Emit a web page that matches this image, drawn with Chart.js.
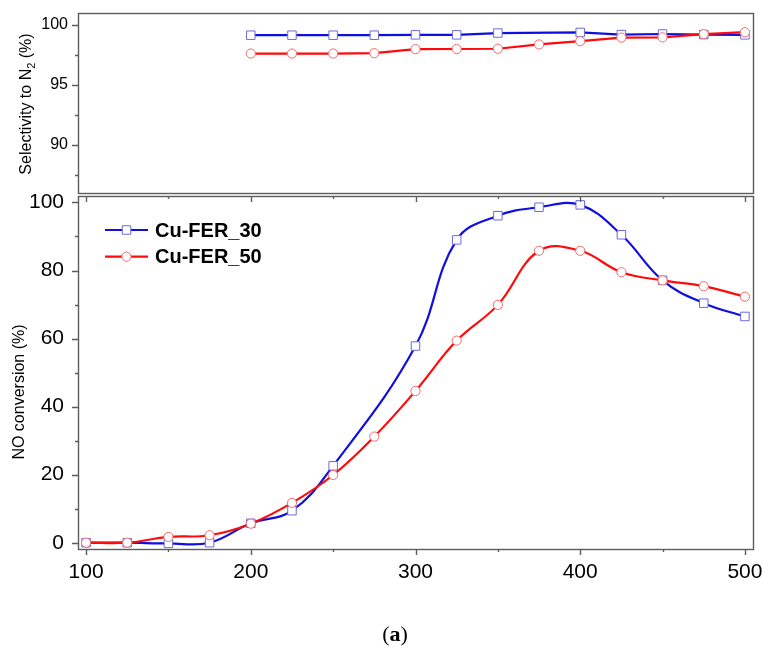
<!DOCTYPE html>
<html>
<head>
<meta charset="utf-8">
<script src="https://cdn.jsdelivr.net/npm/chart.js@4.4.1/dist/chart.umd.min.js"></script>
<style>
  html, body { margin: 0; padding: 0; background: #fff; }
  #wrap { position: relative; width: 764px; height: 648px; overflow: hidden; }
  canvas { position: absolute; left: 0; }
  #selChart { top: 0; }
  #convChart { top: 180px; }
  #caption {
    position: absolute; left: 345px; width: 100px; top: 621px;
    text-align: center; line-height: 26px;
    font-family: "Liberation Serif", "Times New Roman", serif; font-size: 22px; color: #000;
  }
</style>
</head>
<body>
<div id="wrap">
  <canvas id="selChart" width="764" height="200"></canvas>
  <canvas id="convChart" width="764" height="468"></canvas>
  <div id="caption">(<b>a</b>)</div>
</div>
<script>
// temperatures (°C)
const temps = [100, 125, 150, 175, 200, 225, 250, 275, 300, 325, 350, 375, 400, 425, 450, 475, 500];
const selTemps = [200, 225, 250, 275, 300, 325, 350, 375, 400, 425, 450, 475, 500];

// NO conversion (%)
const conv30 = [0, 0, -0.2, 0, 5.7, 9.4, 22.6, null, 57.8, 89.0, 96.1, 98.6, 99.3, 90.5, 77.1, 70.4, 66.5];
const conv50 = [0, 0, 1.7, 2.2, 5.6, 11.7, 19.9, 31.2, 44.6, 59.4, 69.9, 85.8, 85.8, 79.5, 77.1, 75.4, 72.3];

// selectivity to N2 (%)
const sel30 = [99.15, 99.15, 99.15, 99.15, 99.18, 99.18, 99.33, null, 99.38, 99.2, 99.25, 99.2, 99.18];
const sel50 = [97.62, 97.62, 97.62, 97.65, 97.99, 98.0, 98.02, 98.38, 98.65, 98.95, 98.97, 99.24, 99.4];

const seriesNames = ['Cu-FER_30', 'Cu-FER_50'];

// ticks
const xTicks = [100, 200, 300, 400, 500];
const xMinor = [150, 250, 350, 450];
const convTicks = [0, 20, 40, 60, 80, 100];
const convMinor = [10, 30, 50, 70, 90];
const selTicks = [90, 95, 100];
const selMinor = [87.5, 92.5, 97.5];

const BLUE = '#0f0fe0', BLUE_MK = '#6b6bde';
const RED = '#ff0a0a', RED_MK = '#f26a6a';
const AXIS = '#5c5c5c';
const X_MIN = 95.1, X_MAX = 504.9;

Chart.defaults.font.family = 'Arial, "Liberation Sans", sans-serif';
Chart.defaults.color = '#000';

const pts = (xs, ys) => xs.map((x, i) => ({x: x, y: ys[i]}));

// fixed axis boxes so both panels line up
const fixWidth = w => s => { s.width = w; s.paddingTop = 0; s.paddingBottom = 0; };
const fixHeight = h => s => { s.height = h; s.paddingLeft = 0; s.paddingRight = 0; };

function drawTicks(chart, axisId, values, len, edge) {
    const ctx = chart.ctx, a = chart.chartArea;
    const s = chart.scales[axisId];
    ctx.beginPath();
    values.forEach(v => {
        const p = Math.round(s.getPixelForValue(v)) + 0.5;
        if (edge === 'left') { ctx.moveTo(a.left, p); ctx.lineTo(a.left - len, p); }
        if (edge === 'bottom') { ctx.moveTo(p, a.bottom); ctx.lineTo(p, a.bottom + len); }
        if (edge === 'top') { ctx.moveTo(p, a.top); ctx.lineTo(p, a.top + len); }
    });
    ctx.stroke();
}

function drawFrame(chart) {
    const ctx = chart.ctx, a = chart.chartArea;
    ctx.strokeRect(Math.round(a.left) + 0.5, Math.round(a.top) + 0.5,
        Math.round(a.right - a.left), Math.round(a.bottom - a.top));
}

// rotated axis title; parts = [[text, isSubscript], ...]
function drawYTitle(ctx, parts, cx, cy, size) {
    const big = size + 'px Arial, "Liberation Sans", sans-serif';
    const small = Math.round(size * 0.68) + 'px Arial, "Liberation Sans", sans-serif';
    ctx.save();
    ctx.translate(cx, cy);
    ctx.rotate(-Math.PI / 2);
    let total = 0;
    parts.forEach(p => { ctx.font = p[1] ? small : big; total += ctx.measureText(p[0]).width; });
    let x = -total / 2;
    ctx.fillStyle = '#000';
    ctx.textBaseline = 'middle';
    ctx.textAlign = 'left';
    parts.forEach(p => {
        ctx.font = p[1] ? small : big;
        ctx.fillText(p[0], x, p[1] ? size * 0.3 : 0);
        x += ctx.measureText(p[0]).width;
    });
    ctx.restore();
}

const selDecor = {
    id: 'selDecor',
    afterDraw(chart) {
        const ctx = chart.ctx;
        ctx.save();
        ctx.strokeStyle = AXIS;
        ctx.lineWidth = 1.4;
        drawFrame(chart);
        drawTicks(chart, 'y', selTicks, 6, 'left');
        drawTicks(chart, 'y', selMinor, 3, 'left');
        ctx.restore();
        drawYTitle(ctx, [['Selectivity to N', false], ['2', true], [' (%)', false]], 27, 104, 16);
    }
};

const convDecor = {
    id: 'convDecor',
    afterDraw(chart) {
        const ctx = chart.ctx, a = chart.chartArea;
        ctx.save();
        ctx.strokeStyle = AXIS;
        ctx.lineWidth = 1.4;
        drawFrame(chart);
        drawTicks(chart, 'y', convTicks, 6, 'left');
        drawTicks(chart, 'y', convMinor, 3, 'left');
        drawTicks(chart, 'x', xTicks, 6, 'bottom');
        drawTicks(chart, 'x', xMinor, 3, 'bottom');
        drawTicks(chart, 'x', xTicks, 6, 'top');
        drawTicks(chart, 'x', xMinor, 3, 'top');
        ctx.restore();
        drawYTitle(ctx, [['NO conversion (%)', false]], 20, 212, 16);

        // legend: line with marker in the middle, bold label
        chart.data.datasets.slice().sort((p, q) => p.legendIndex - q.legendIndex).forEach((ds, i) => {
            const y = a.top + 34 + i * 26.7;
            const x0 = a.left + 27, x1 = a.left + 70;
            ctx.save();
            ctx.strokeStyle = ds.borderColor;
            ctx.lineWidth = 2.2;
            ctx.beginPath();
            ctx.moveTo(x0, y);
            ctx.lineTo(x1, y);
            ctx.stroke();
            ctx.fillStyle = '#fff';
            ctx.strokeStyle = ds.pointBorderColor;
            ctx.lineWidth = 1;
            Chart.helpers.drawPoint(ctx, {pointStyle: ds.pointStyle, radius: ds.pointRadius, borderWidth: 1, rotation: 0}, (x0 + x1) / 2, y);
            ctx.fillStyle = '#000';
            ctx.font = 'bold 20px Arial, "Liberation Sans", sans-serif';
            ctx.textBaseline = 'middle';
            ctx.fillText(ds.label, a.left + 77, y + 1);
            ctx.restore();
        });
    }
};

function series(label, data, line, marker, style, radius, tension, order, legendIndex) {
    return {
        label: label,
        data: data,
        borderColor: line,
        borderWidth: 2.2,
        backgroundColor: line,
        pointStyle: style,
        pointRadius: radius,
        pointBorderColor: marker,
        pointBackgroundColor: '#fff',
        pointBorderWidth: 1,
        tension: tension,
        spanGaps: true,
        order: order,
        legendIndex: legendIndex
    };
}

const common = {
    responsive: false,
    animation: false,
    events: [],
    plugins: {legend: {display: false}, tooltip: {enabled: false}}
};

new Chart(document.getElementById('selChart'), {
    type: 'line',
    data: {
        datasets: [
            series(seriesNames[0], pts(selTemps, sel30), BLUE, BLUE_MK, 'rect', 6, 0, 1, 0),
            series(seriesNames[1], pts(selTemps, sel50), RED, RED_MK, 'circle', 4.6, 0, 0, 1)
        ]
    },
    options: Object.assign({}, common, {
        layout: {padding: {top: 13, bottom: 4, left: 0, right: 11}},
        scales: {
            x: {type: 'linear', min: X_MIN, max: X_MAX, display: false},
            y: {
                min: 86, max: 101,
                afterBuildTicks: s => { s.ticks = selTicks.map(v => ({value: v})); },
                afterFit: fixWidth(78),
                grid: {display: false, drawTicks: false},
                border: {display: false},
                ticks: {font: {size: 16}, color: '#000', padding: 10}
            }
        }
    }),
    plugins: [selDecor]
});

new Chart(document.getElementById('convChart'), {
    type: 'line',
    data: {
        datasets: [
            series(seriesNames[0], pts(temps, conv30), BLUE, BLUE_MK, 'rect', 6, 0.4, 1, 0),
            series(seriesNames[1], pts(temps, conv50), RED, RED_MK, 'circle', 4.6, 0.4, 0, 1)
        ]
    },
    options: Object.assign({}, common, {
        layout: {padding: {top: 16, bottom: 0, left: 0, right: 11}},
        scales: {
            x: {
                type: 'linear', min: X_MIN, max: X_MAX,
                afterBuildTicks: s => { s.ticks = xTicks.map(v => ({value: v})); },
                afterFit: fixHeight(99),
                grid: {display: false, drawTicks: false},
                border: {display: false},
                ticks: {font: {size: 21}, color: '#000', padding: 11, maxRotation: 0, autoSkip: false}
            },
            y: {
                min: -1.85, max: 101.9,
                afterBuildTicks: s => { s.ticks = convTicks.map(v => ({value: v})); },
                afterFit: fixWidth(78),
                grid: {display: false, drawTicks: false},
                border: {display: false},
                ticks: {font: {size: 21}, color: '#000', padding: 14}
            }
        }
    }),
    plugins: [convDecor]
});
</script>
</body>
</html>
